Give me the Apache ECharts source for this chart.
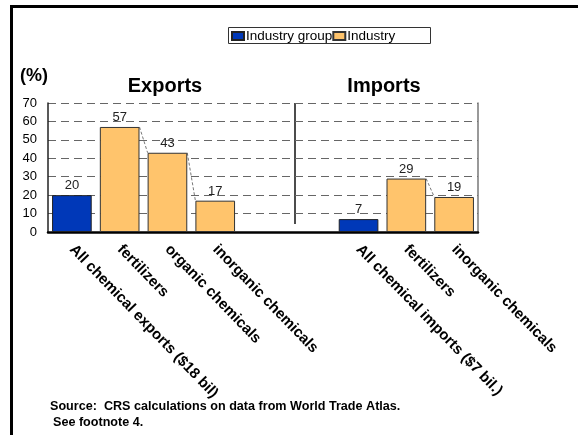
<!DOCTYPE html>
<html>
<head>
<meta charset="utf-8">
<script src="https://cdn.jsdelivr.net/npm/echarts@6/dist/echarts.min.js"></script>
<style>
html,body{margin:0;padding:0;background:#fff;}
#chart{width:578px;height:435px;}
</style>
</head>
<body>
<div id="chart"></div>
<script>
const categories = ['All chemical exports ($18 bil)', 'fertilizers', 'organic chemicals', 'inorganic chemicals', '', '', 'All chemical imports ($7 bil.)', 'fertilizers', 'inorganic chemicals'];
const industryGroup = [20, null, null, null, null, null, 7, null, null];
const industry = [null, 57, 43, 17, null, null, null, 29, 19];
const yMin = 0, yMax = 70, yStep = 10;

const FONT = 'Arial, "Liberation Sans", sans-serif';
const BAR_FRAC = 0.83;

// series-line pairs (Excel style connectors between adjacent bars of the same series)
const seriesLinePairs = [];
for (let i = 0; i < industry.length - 1; i++) {
  if (industry[i] != null && industry[i + 1] != null) {
    seriesLinePairs.push([i, industry[i], industry[i + 1]]);
  }
}

const chart = echarts.init(document.getElementById('chart'), null, {renderer: 'canvas'});
chart.setOption({
  animation: false,
  backgroundColor: '#fff',
  textStyle: {fontFamily: FONT},
  grid: {left: 48, right: 100, top: 103, bottom: 203, containLabel: false},
  legend: {
    data: ['Industry group', 'Industry'],
    left: 231, top: 29,
    itemGap: 0, itemWidth: 12, itemHeight: 8,
    padding: 0,
    textStyle: {fontFamily: FONT, fontSize: 13.5, color: '#000', padding: [0, 0, 0, -3]},
    icon: 'rect'
  },
  xAxis: {
    type: 'category',
    data: categories,
    axisLine: {show: true, lineStyle: {color: '#000', width: 2.5}},
    axisTick: {show: false},
    axisLabel: {
      interval: 0, rotate: -46, margin: 15,
      fontFamily: FONT, fontSize: 15, fontWeight: 'bold', color: '#000'
    },
    splitLine: {show: false}
  },
  yAxis: [{
    type: 'value',
    min: yMin, max: yMax, interval: yStep,
    axisLine: {show: true, lineStyle: {color: '#222', width: 1.5}},
    axisTick: {show: false},
    axisLabel: {fontFamily: FONT, fontSize: 13, color: '#000', margin: 11},
    splitLine: {show: true, lineStyle: {color: '#666', type: [8, 5], width: 1}}
  }, {
    type: 'value',
    position: 'right',
    min: yMin, max: yMax, interval: yStep,
    axisLine: {show: true, lineStyle: {color: '#777', width: 1.5}},
    axisTick: {show: false},
    axisLabel: {show: false},
    splitLine: {show: false}
  }],
  series: [{
    name: 'Industry group',
    type: 'bar',
    data: industryGroup,
    barWidth: (BAR_FRAC * 100) + '%',
    barGap: '-100%',
    itemStyle: {color: '#0038B8', borderColor: '#222', borderWidth: 1},
    label: {show: true, position: 'top', distance: 3, fontFamily: FONT, fontSize: 13, color: '#222'}
  }, {
    name: 'Industry',
    type: 'bar',
    data: industry,
    barWidth: (BAR_FRAC * 100) + '%',
    barGap: '-100%',
    itemStyle: {color: '#FFC46C', borderColor: '#333', borderWidth: 1},
    label: {show: true, position: 'top', distance: 3, fontFamily: FONT, fontSize: 13, color: '#222'}
  }, {
    name: 'seriesLines',
    type: 'custom',
    silent: true,
    data: seriesLinePairs,
    z: 1,
    renderItem: function (params, api) {
      const i = api.value(0);
      const p1 = api.coord([i, api.value(1)]);
      const p2 = api.coord([i + 1, api.value(2)]);
      const half = api.size([1, 0])[0] * BAR_FRAC / 2;
      return {
        type: 'line',
        shape: {x1: p1[0] + half, y1: p1[1], x2: p2[0] - half, y2: p2[1]},
        style: {stroke: '#555', lineWidth: 0.8, lineDash: [3, 2]}
      };
    }
  }],
  graphic: [
    {type: 'rect', shape: {x: 11.5, y: 6.5, width: 600, height: 500}, style: {fill: null, stroke: '#000', lineWidth: 3}, z: 100},
    {type: 'rect', shape: {x: 228.5, y: 27.5, width: 202, height: 16}, style: {fill: null, stroke: '#333', lineWidth: 1}},
    {type: 'text', left: 20, top: 67, style: {text: '(%)', font: 'bold 18px ' + FONT, fill: '#000'}},
    {type: 'text', x: 165, y: 76, style: {text: 'Exports', font: 'bold 20px ' + FONT, fill: '#000', textAlign: 'center'}},
    {type: 'text', x: 384, y: 76, style: {text: 'Imports', font: 'bold 20px ' + FONT, fill: '#000', textAlign: 'center'}},
    {type: 'line', shape: {x1: 295, y1: 103, x2: 295, y2: 224}, style: {stroke: '#111', lineWidth: 1.5}},
    {type: 'text', left: 50, top: 400, style: {text: 'Source:  CRS calculations on data from World Trade Atlas.', font: 'bold 12.6px ' + FONT, fill: '#000'}},
    {type: 'text', left: 53, top: 416, style: {text: 'See footnote 4.', font: 'bold 12.6px ' + FONT, fill: '#000'}}
  ]
});
</script>
</body>
</html>
